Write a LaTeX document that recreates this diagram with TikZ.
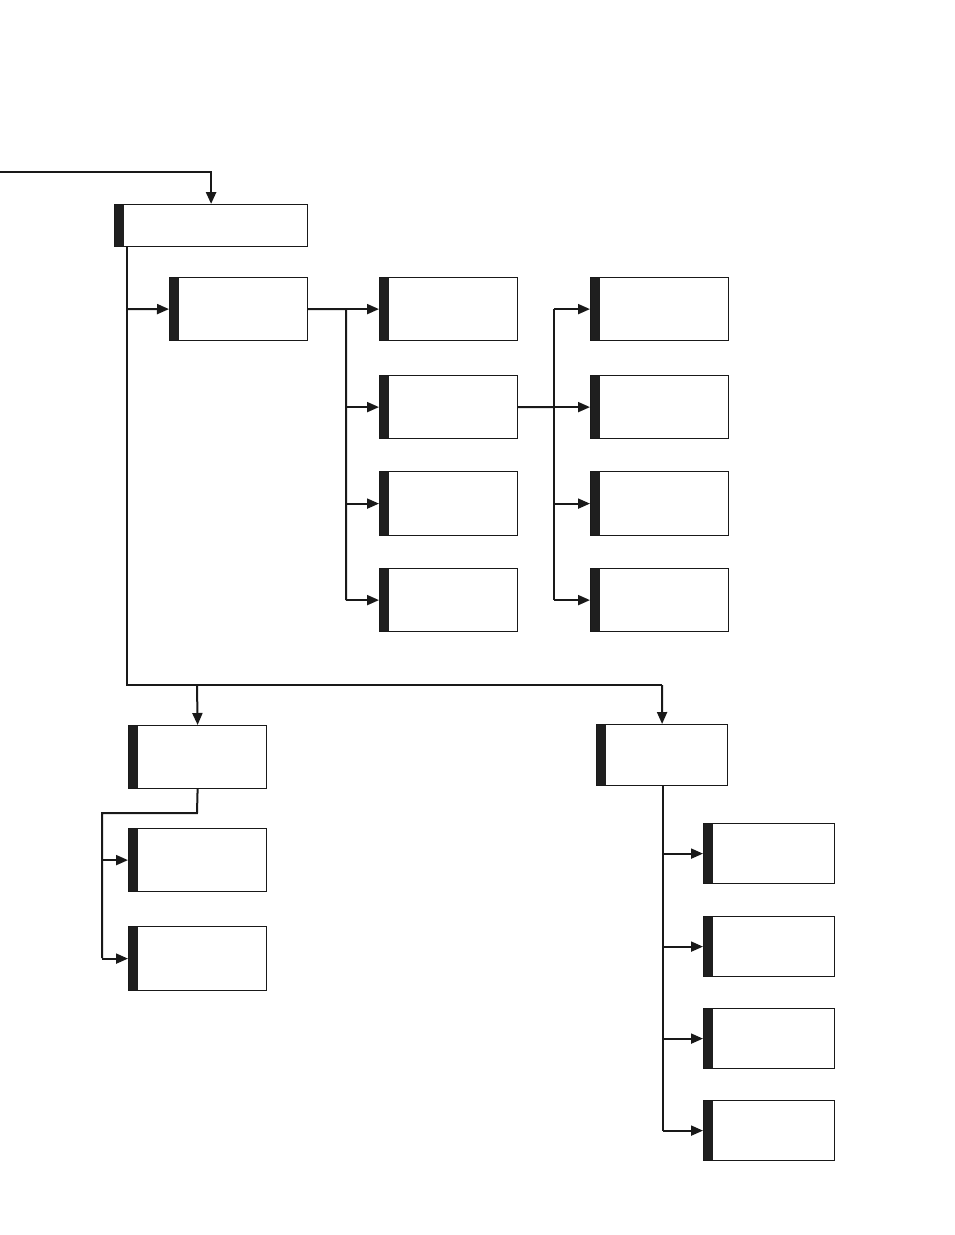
\documentclass[tikz,border=0pt]{standalone}
\usetikzlibrary{arrows.meta}
\begin{document}
\begin{tikzpicture}[x=1pt,y=-1pt,
  box/.style={draw=black!90,line width=1.2pt,rectangle,inner sep=0pt,anchor=north west,
    path picture={\fill[black!88] (path picture bounding box.north west) rectangle ([xshift=9pt]path picture bounding box.south west);}},
  con/.style={draw=black!90,line width=2pt},
  arr/.style={con,-{Triangle[length=12pt,width=10pt]}}]
\useasboundingbox (0,0) rectangle (954,1235);
\newcommand\bx[5]{\node[box,minimum width=#4-#2,minimum height=#5-#3] (#1) at (#2,#3) {};}
\bx{top}{114}{204}{307}{246}
\bx{b1}{169}{277}{307}{340}
\bx{c1}{379}{277}{517}{340}
\bx{c2}{379}{375}{517}{438}
\bx{c3}{379}{471}{517}{535}
\bx{c4}{379}{568}{517}{631}
\bx{d1}{590}{277}{728}{340}
\bx{d2}{590}{375}{728}{438}
\bx{d3}{590}{471}{728}{535}
\bx{d4}{590}{568}{728}{631}
\bx{l0}{128}{725}{266}{788}
\bx{l1}{128}{828}{266}{891}
\bx{l2}{128}{926}{266}{990}
\bx{r0}{596}{724}{727}{785}
\bx{r1}{703}{823}{834}{883}
\bx{r2}{703}{916}{834}{976}
\bx{r3}{703}{1008}{834}{1068}
\bx{r4}{703}{1100}{834}{1160}
\coordinate (s) at (0,172);
\draw[arr,line width=2.6pt] (s) -| (top.north);
\draw[con,line width=2.6pt] (127,246) -- (127,685) -- (662,685);
\draw[arr] (127,309) -- (b1.west);
\draw[arr] (197,685) -- (l0.north);
\draw[arr] (662,685) -- (r0.north);
\draw[con] (b1.east) -- (346,309) -- (346,600);
\foreach \n in {c1,c2,c3,c4} \draw[arr] (346,0 |- \n.west) -- (\n.west);
\draw[con] (c2.east) -- (554,407);
\draw[con] (554,309) -- (554,600);
\foreach \n in {d1,d2,d3,d4} \draw[arr] (554,0 |- \n.west) -- (\n.west);
\draw[con] (l0.south) -- (197,813) -- (102,813) -- (102,958);
\foreach \n in {l1,l2} \draw[arr] (102,0 |- \n.west) -- (\n.west);
\draw[con] (663,785) -- (663,1131);
\foreach \n in {r1,r2,r3,r4} \draw[arr] (663,0 |- \n.west) -- (\n.west);
\end{tikzpicture}
\end{document}
